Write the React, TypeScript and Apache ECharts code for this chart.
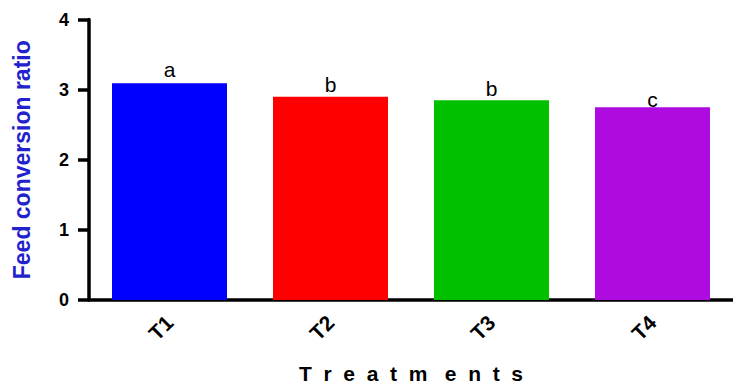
import React, { useEffect, useRef } from "react";
import * as echarts from "echarts";

const categories = ["T1", "T2", "T3", "T4"];
const values = [3.09, 2.9, 2.85, 2.75];
const letters = ["a", "b", "b", "c"];
const colors = ["#0000ff", "#ff0000", "#00c000", "#ad0be0"];
const labelGaps = [3, 2, 1, -3];

export default function App() {
  const ref = useRef<HTMLDivElement>(null);
  useEffect(() => {
    const chart = echarts.init(ref.current!, null, { renderer: "svg" });
    const font = "'Liberation Sans', Arial, sans-serif";
    chart.setOption({
      animation: false,
      grid: { left: 89, top: 19.5, bottom: 88, right: -6.5, containLabel: false },
      xAxis: {
        type: "category",
        data: categories,
        name: "T  r  e  a  t  m   e  n  t  s",
        nameLocation: "middle",
        nameGap: 63,
        nameTextStyle: { fontFamily: font, fontWeight: "bold", fontSize: 21, color: "#000" },
        axisLine: { lineStyle: { color: "#000", width: 3.5 } },
        axisTick: { alignWithLabel: true, length: 7, lineStyle: { color: "#000", width: 3.5 } },
        axisLabel: { rotate: 45, fontFamily: font, fontWeight: "bold", fontSize: 21, color: "#000", margin: 19 },
      },
      yAxis: {
        type: "value",
        min: 0,
        max: 4,
        interval: 1,
        name: "Feed conversion ratio",
        nameLocation: "middle",
        nameGap: 56,
        nameTextStyle: { fontFamily: font, fontWeight: "bold", fontSize: 23, color: "#2222cc" },
        splitLine: { show: false },
        axisLine: { show: true, lineStyle: { color: "#000", width: 3.5 } },
        axisTick: { show: true, length: 11, lineStyle: { color: "#000", width: 3.5 } },
        axisLabel: { fontFamily: font, fontWeight: "bold", fontSize: 18, color: "#000", margin: 20 },
      },
      series: [
        {
          type: "bar",
          barWidth: 115,
          data: values.map((v, i) => ({
            value: v,
            itemStyle: { color: colors[i] },
            label: {
              show: true,
              position: "top",
              distance: labelGaps[i],
              formatter: letters[i],
              fontFamily: font,
              fontSize: 21,
              color: "#000",
            },
          })),
        },
      ],
    });
    return () => chart.dispose();
  }, []);
  return (
    <div
      ref={ref}
      style={{ position: "absolute", left: 0, top: 0, width: 733, height: 389, background: "#fff" }}
    />
  );
}
